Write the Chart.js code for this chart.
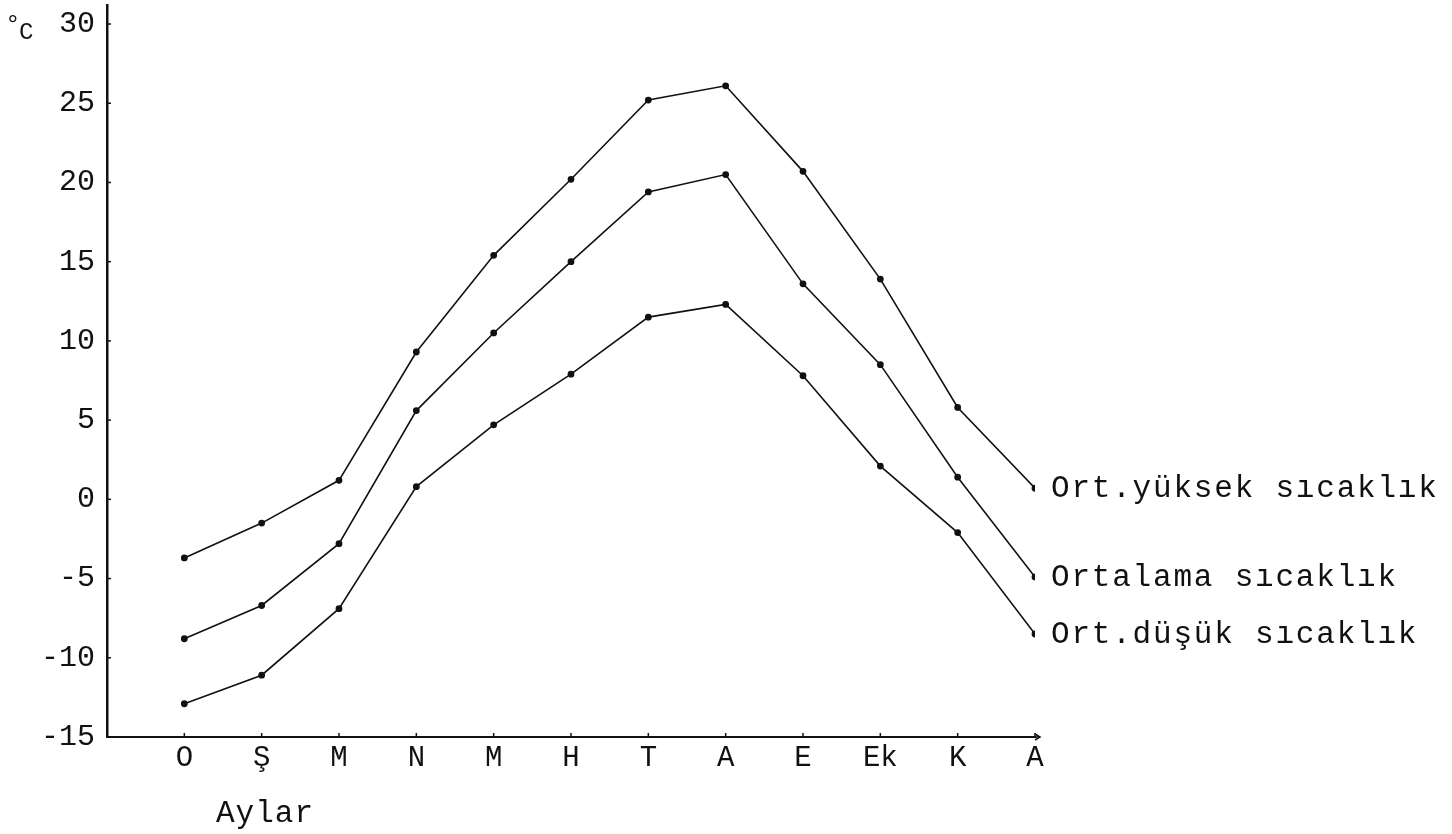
<!DOCTYPE html>
<html>
<head>
<meta charset="utf-8">
<script src="https://cdn.jsdelivr.net/npm/chart.js@4/dist/chart.umd.min.js"></script>
<style>
  html, body { margin: 0; padding: 0; background: #fff; }
  #wrap { width: 1452px; height: 834px; position: relative; }
</style>
</head>
<body>
<div id="wrap"><canvas id="c" width="1452" height="834"></canvas></div>
<script>
// ---- data ----
const months = ['O', 'Ş', 'M', 'N', 'M', 'H', 'T', 'A', 'E', 'Ek', 'K', 'A'];
const seriesNames = ['Ort.yüksek sıcaklık', 'Ortalama sıcaklık', 'Ort.düşük sıcaklık'];
const highTemps = [-3.7, -1.5, 1.2, 9.3, 15.4, 20.2, 25.2, 26.1, 20.7, 13.9, 5.8, 0.7];
const meanTemps = [-8.8, -6.7, -2.8, 5.6, 10.5, 15.0, 19.4, 20.5, 13.6, 8.5, 1.4, -4.9];
const lowTemps  = [-12.9, -11.1, -6.9, 0.8, 4.7, 7.9, 11.5, 12.3, 7.8, 2.1, -2.1, -8.5];
const yTickValues = [-15, -10, -5, 0, 5, 10, 15, 20, 25, 30];
const xTitle = 'Aylar';

const FONT = '"Liberation Mono", "DejaVu Sans Mono", monospace';
const toPoints = arr => arr.map((v, i) => ({ x: i + 1, y: v }));

const ds = (label, data) => ({
  label, data: toPoints(data),
  borderColor: '#111', backgroundColor: '#111',
  borderWidth: 1.6, pointRadius: 2.6, pointHoverRadius: 2.6,
  tension: 0, fill: false
});

const decor = {
  id: 'decor',
  afterDraw(chart) {
    const ctx = chart.ctx;
    const xs = chart.scales.x, ys = chart.scales.y;
    const area = chart.chartArea;
    ctx.save();
    ctx.strokeStyle = '#111';
    ctx.lineWidth = 1.5;
    // inward tick marks on y axis
    yTickValues.forEach(v => {
      const py = ys.getPixelForValue(v);
      ctx.beginPath(); ctx.moveTo(area.left, py); ctx.lineTo(area.left + 4, py); ctx.stroke();
    });
    // upward tick marks on x axis
    months.forEach((m, i) => {
      const px = xs.getPixelForValue(i + 1);
      ctx.beginPath(); ctx.moveTo(px, area.bottom); ctx.lineTo(px, area.bottom - 4); ctx.stroke();
    });
    // arrow at end of x axis
    const ex = area.right + 5;
    ctx.beginPath(); ctx.moveTo(area.right, area.bottom); ctx.lineTo(ex, area.bottom); ctx.stroke();
    ctx.beginPath(); ctx.moveTo(ex - 5, area.bottom - 3); ctx.lineTo(ex, area.bottom); ctx.lineTo(ex - 5, area.bottom + 3); ctx.stroke();
    // series labels at line ends
    ctx.fillStyle = '#111';
    ctx.font = '31px ' + FONT;
    try { ctx.letterSpacing = '1.8px'; } catch (e) {}
    ctx.textAlign = 'left';
    ctx.textBaseline = 'middle';
    chart.data.datasets.forEach((d, i) => {
      const meta = chart.getDatasetMeta(i);
      const last = meta.data[meta.data.length - 1];
      ctx.fillText(d.label, last.x + 16, last.y + 1);
    });
    try { ctx.letterSpacing = '0px'; } catch (e) {}
    // unit label
    ctx.textBaseline = 'alphabetic';
    ctx.font = '26px ' + FONT;
    ctx.fillText('°', 5, 32);
    ctx.font = '24px ' + FONT;
    ctx.fillText('C', 19, 39);
    // x axis title
    ctx.font = '31px ' + FONT;
    try { ctx.letterSpacing = '1px'; } catch (e) {}
    ctx.fillText(xTitle, 216, 822);
    ctx.restore();
  }
};

new Chart(document.getElementById('c'), {
  type: 'line',
  data: { datasets: [ds(seriesNames[0], highTemps), ds(seriesNames[1], meanTemps), ds(seriesNames[2], lowTemps)] },
  options: {
    responsive: false,
    animation: false,
    devicePixelRatio: 1,
    layout: { padding: { top: 5, right: 417, left: 0, bottom: 0 } },
    plugins: { legend: { display: false }, tooltip: { enabled: false } },
    scales: {
      x: {
        type: 'linear', min: 0, max: 12,
        grid: { display: false },
        border: { display: true, color: '#111', width: 2 },
        afterFit(s) { s.height = 97; s.paddingLeft = 0; s.paddingRight = 0; },
        afterBuildTicks(s) { s.ticks = months.map((m, i) => ({ value: i + 1 })); },
        ticks: {
          color: '#111', padding: -4, maxRotation: 0, autoSkip: false,
          font: { family: FONT, size: 29 },
          callback: v => months[v - 1] || ''
        }
      },
      y: {
        type: 'linear', min: -15, max: 31.2,
        grid: { display: false },
        border: { display: true, color: '#111', width: 2.5 },
        afterFit(s) { s.width = 107; s.paddingTop = 0; s.paddingBottom = 0; },
        afterBuildTicks(s) { s.ticks = yTickValues.map(v => ({ value: v })); },
        ticks: {
          color: '#111', padding: 4,
          font: { family: FONT, size: 30 },
          callback: v => String(v)
        }
      }
    }
  },
  plugins: [decor]
});
</script>
</body>
</html>
